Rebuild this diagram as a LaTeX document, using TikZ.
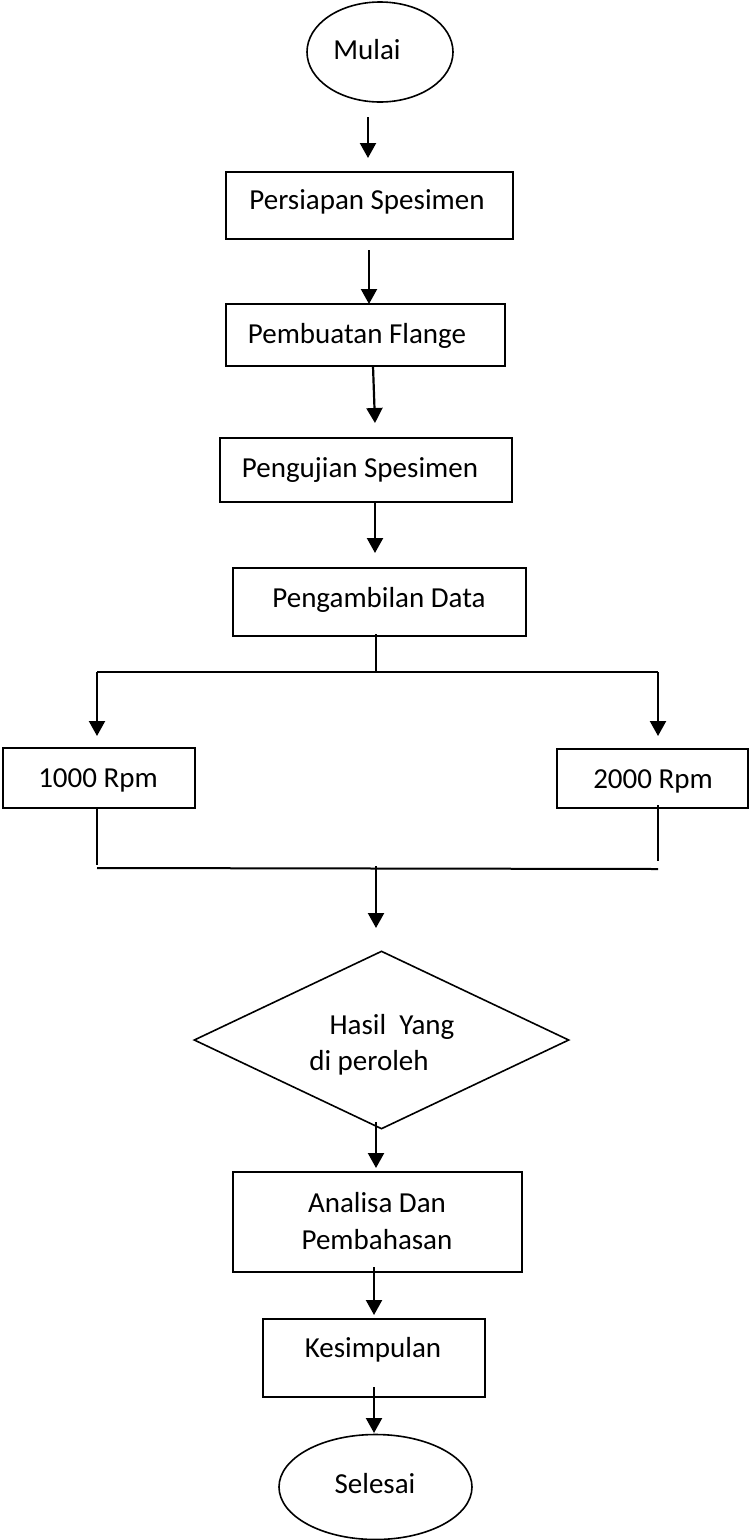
\documentclass[tikz,border=0pt]{standalone}
\usepackage{fontspec}
\setmainfont{Carlito}
\usetikzlibrary{shapes.geometric,arrows.meta}
\begin{document}
\begin{tikzpicture}[x=1pt,y=-1pt,
  every node/.style={font=\fontsize{29}{35}\selectfont},
  boxn/.style={draw,line width=1.8pt,rectangle,inner sep=0pt},
  ovaln/.style={draw,line width=1.6pt,ellipse,inner sep=0pt},
  txt/.style={inner sep=0pt,anchor=center},
  arr/.style={line width=2.2pt,-{Triangle[width=16pt,length=15pt]}},
  ln/.style={line width=1.5pt},
  hln/.style={line width=2pt}]
\useasboundingbox (0,0) rectangle (749,1540);
% nodes
\node[ovaln,minimum width=146pt,minimum height=100pt] (mulai) at (380,52) {};
\node[txt] (tmulai) at (367,50) {Mulai};
\node[boxn,minimum width=287pt,minimum height=67pt] (b1) at (369.5,205.5) {};
\node[txt] (t1) at (367,202) {Persiapan Spesimen};
\node[boxn,minimum width=279pt,minimum height=62pt] (b2) at (365.5,335) {};
\node[txt] (t2) at (357,336) {Pembuatan Flange};
\node[boxn,minimum width=292pt,minimum height=64pt] (b3) at (366,470) {};
\node[txt] (t3) at (360,470) {Pengujian Spesimen};
\node[boxn,minimum width=293pt,minimum height=68pt] (b4) at (379.5,602) {};
\node[txt] (t4) at (379,600) {Pengambilan Data};
\node[boxn,minimum width=192pt,minimum height=60pt] (r1) at (99,778) {};
\node[txt] (tr1) at (98,780) {1000 Rpm};
\node[boxn,minimum width=191pt,minimum height=59pt] (r2) at (652.5,778.5) {};
\node[txt] (tr2) at (653,781) {2000 Rpm};
\node[draw,line width=1.6pt,diamond,inner sep=0pt,minimum width=375pt,minimum height=178pt] (d) at (381.5,1040) {};
\node[txt] (td1) at (392,1027) {Hasil\ \ Yang};
\node[txt] (td2) at (369,1063) {di peroleh};
\node[boxn,minimum width=289pt,minimum height=100pt] (b5) at (377.5,1222) {};
\node[txt] (t5a) at (377,1203) {Analisa Dan};
\node[txt] (t5b) at (377,1240) {Pembahasan};
\node[boxn,minimum width=222pt,minimum height=78pt] (b6) at (374,1358) {};
\node[txt] (t6) at (373,1350) {Kesimpulan};
\node[ovaln,minimum width=193pt,minimum height=105pt] (selesai) at (375.5,1487) {};
\node[txt] (tsel) at (375,1484) {Selesai};
% coordinates
\coordinate (a1s) at (368,117); \coordinate (a1e) at (368,158);
\coordinate (a2s) at (369,250); \coordinate (a2e) at (369,304);
\coordinate (a3s) at (373,366); \coordinate (a3e) at (375,423);
\coordinate (a4s) at (375,502); \coordinate (a4e) at (375,553);
\coordinate (s1) at (376,634); \coordinate (s2) at (376,672);
\coordinate (hl) at (97,672); \coordinate (hr) at (658,672);
\coordinate (al) at (97,736); \coordinate (ar) at (658,736);
\coordinate (l1) at (97,808); \coordinate (l2) at (97,865);
\coordinate (r1a) at (658,805); \coordinate (r1b) at (658,861);
\coordinate (ml) at (97,868); \coordinate (mr) at (658,869);
\coordinate (m1) at (376,866); \coordinate (m2) at (376,928);
\coordinate (a7s) at (376,1122); \coordinate (a7e) at (376,1168);
\coordinate (a8s) at (374,1267); \coordinate (a8e) at (374,1315);
\coordinate (a9s) at (374,1387); \coordinate (a9e) at (374,1433);
% connectors
\draw[arr] (a1s) -- (a1e);
\draw[arr] (a2s) -- (a2e);
\draw[arr] (a3s) -- (a3e);
\draw[arr] (a4s) -- (a4e);
\draw[ln] (s1) -- (s2);
\draw[hln] (hl) -- (hr);
\draw[arr] (hl) -- (al);
\draw[arr] (hr) -- (ar);
\draw[ln] (l1) -- (l2);
\draw[ln] (r1a) -- (r1b);
\draw[hln] (ml) -- (mr);
\draw[arr] (m1) -- (m2);
\draw[arr] (a7s) -- (a7e);
\draw[arr] (a8s) -- (a8e);
\draw[arr] (a9s) -- (a9e);
\end{tikzpicture}
\end{document}
